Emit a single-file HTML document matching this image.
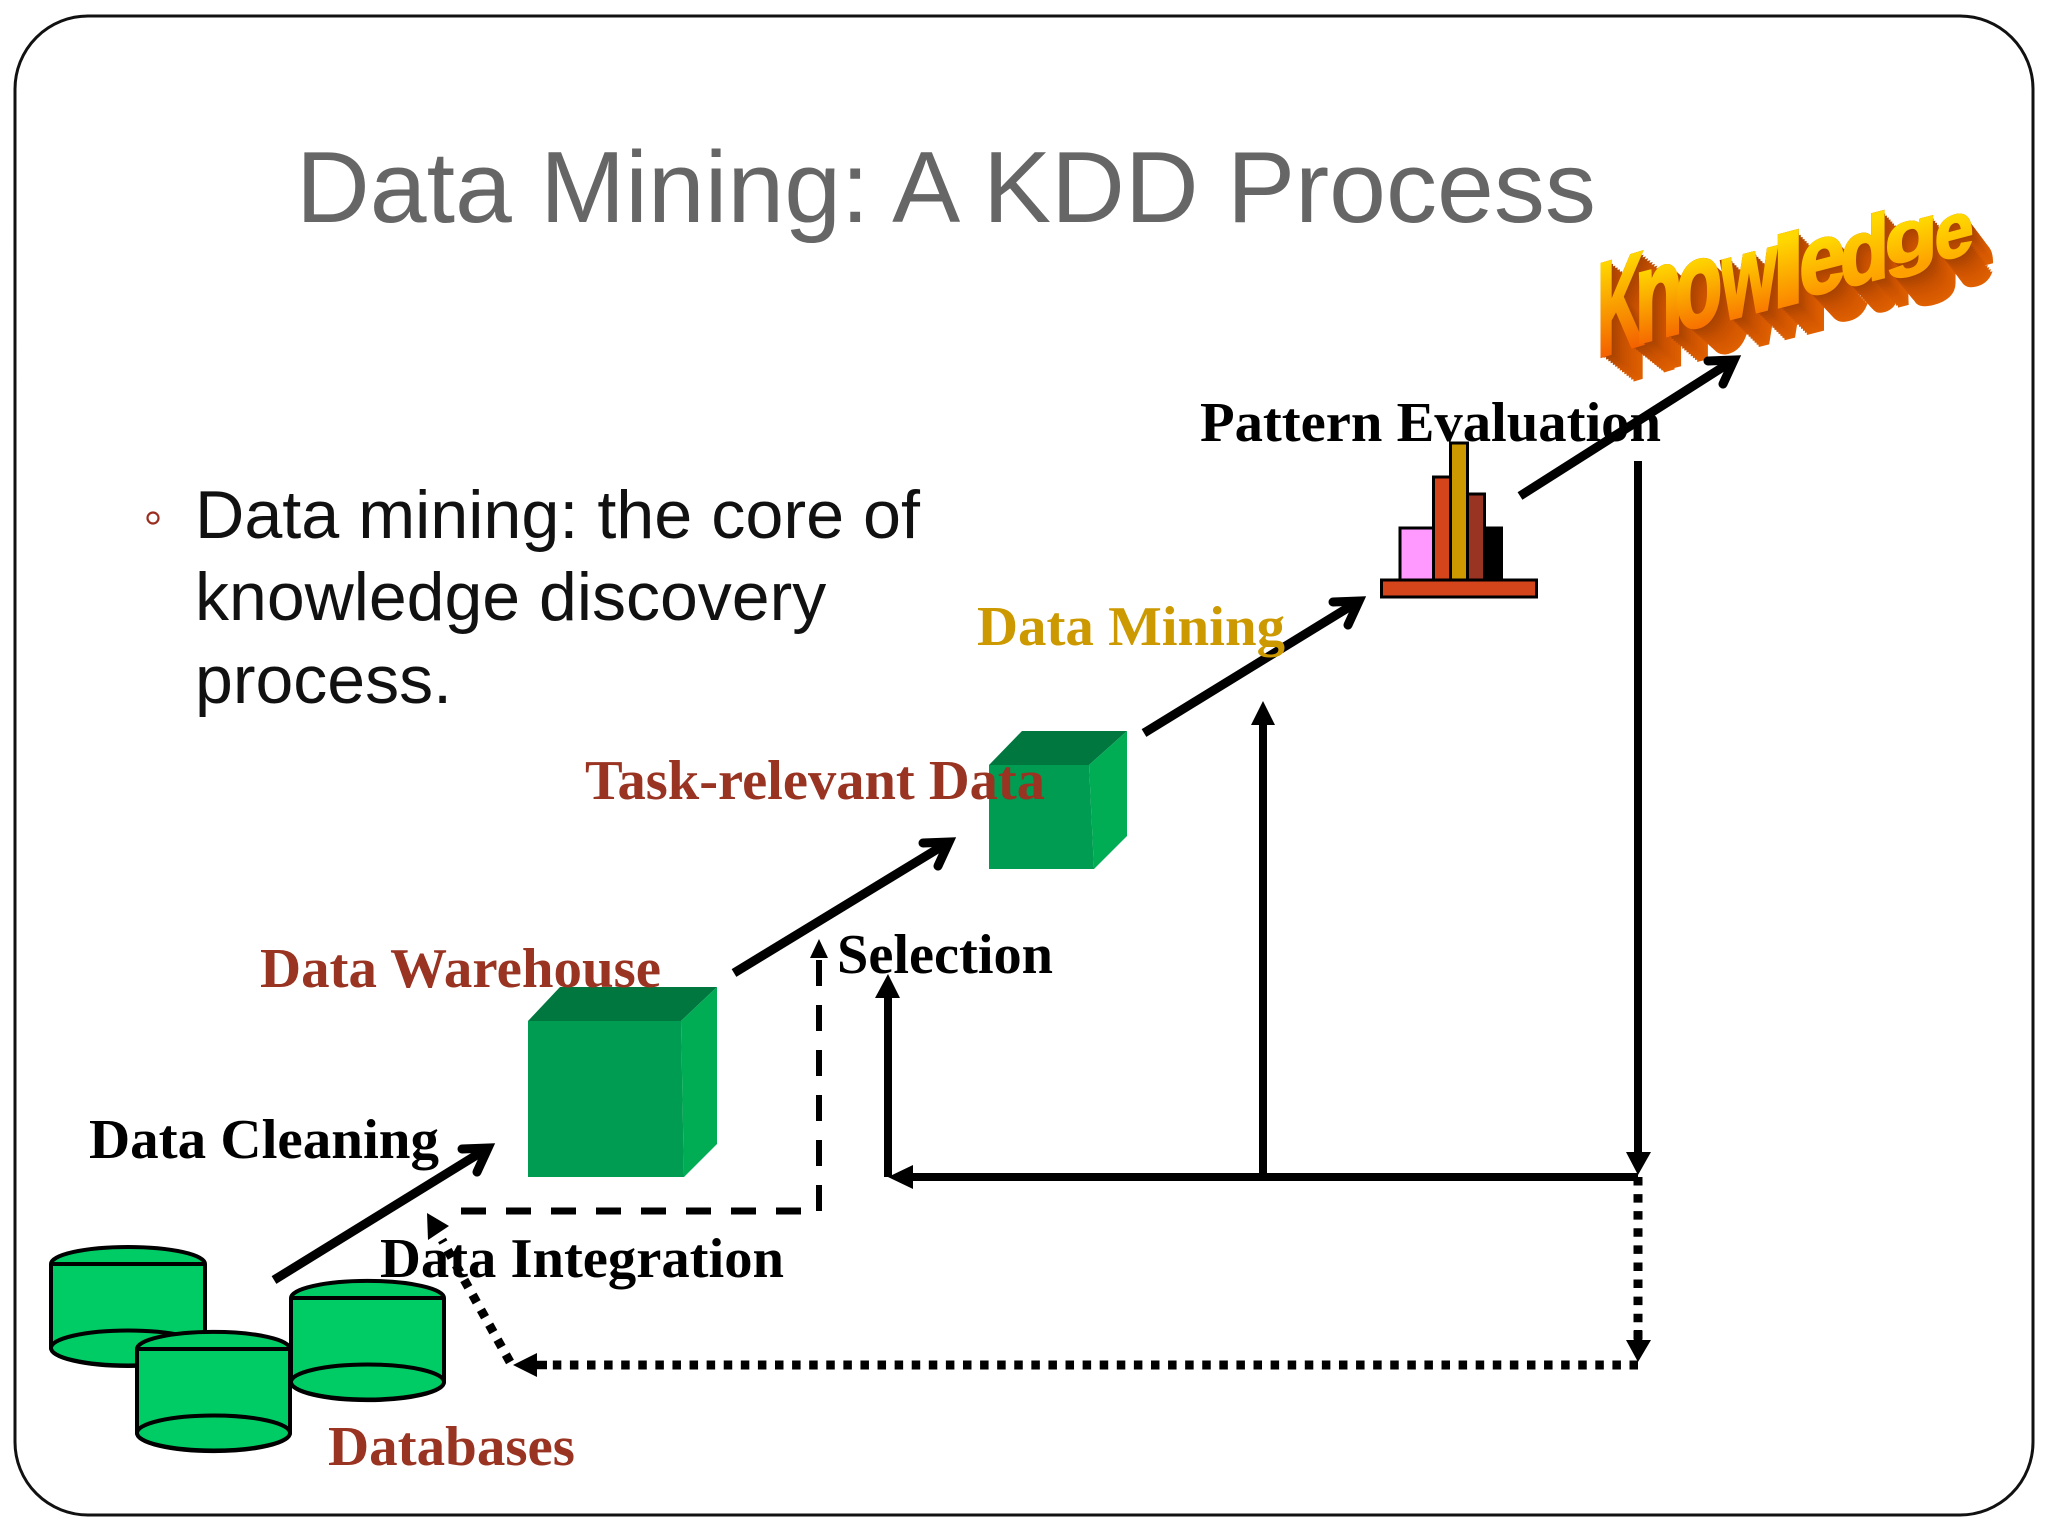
<!DOCTYPE html>
<html><head><meta charset="utf-8"><style>
html,body{margin:0;padding:0;background:#fff;width:2048px;height:1536px;overflow:hidden}
.ka{position:absolute;left:0;top:0;width:2048px;height:1536px;font:bold 100px/100px "Liberation Sans",sans-serif}
.ka span{position:absolute;left:0;top:0;display:block;width:110px;height:112px;transform-origin:0 0;white-space:nowrap}
.sh span{color:#a84200;-webkit-text-stroke:3px #a84200;text-shadow:calc(var(--x)*1) calc(var(--y)*1) #a84200,calc(var(--x)*2) calc(var(--y)*2) #ae4500,calc(var(--x)*3) calc(var(--y)*3) #b44800,calc(var(--x)*4) calc(var(--y)*4) #ba4a00,calc(var(--x)*5) calc(var(--y)*5) #c04d00,calc(var(--x)*6) calc(var(--y)*6) #c65000,calc(var(--x)*7) calc(var(--y)*7) #ca5200,calc(var(--x)*8) calc(var(--y)*8) #ce5400,calc(var(--x)*9) calc(var(--y)*9) #d25600,calc(var(--x)*10) calc(var(--y)*10) #d65800,calc(var(--x)*11) calc(var(--y)*11) #d85a00,calc(var(--x)*12) calc(var(--y)*12) #da5c00,calc(var(--x)*13) calc(var(--y)*13) #dc5e00,calc(var(--x)*14) calc(var(--y)*14) #e06000}
.fr span{color:transparent;-webkit-text-stroke:3px transparent;background:linear-gradient(#ffd800 var(--t),var(--c) 85%);-webkit-background-clip:text;background-clip:text}
.k1{--x:3.56px;--y:1.9px;--t:12%;--c:#f25000;transform:matrix(.641,-.192,0,1.326,1597.2,245.8)}
.k2{--x:2.73px;--y:1.9px;--t:25%;--c:#f45800;transform:matrix(.784,-.204,0,1.296,1634.9,234.9)}
.k3{--x:2.79px;--y:2.05px;--t:25%;--c:#f66000;transform:matrix(.769,-.2,0,1.213,1675.2,229.8)}
.k4{--x:2.8px;--y:2.25px;--t:25%;--c:#f86800;transform:matrix(.714,-.186,0,1.131,1721.3,226.1)}
.k5{--x:1.55px;--y:2.55px;--t:15%;--c:#fa7800;transform:matrix(1.25,-.325,0,.988,1771,226.1)}
.k6{--x:2.23px;--y:2.5px;--t:28%;--c:#fc8800;transform:matrix(.833,-.217,0,.993,1799.2,214.9)}
.k7{--x:2.23px;--y:2.7px;--t:15%;--c:#fd9800;transform:matrix(.8,-.208,0,.908,1840.1,212.2)}
.k8{--x:1.98px;--y:3.5px;--t:28%;--c:#fea000;transform:matrix(.865,-.225,0,.723,1884.8,206.2)}
.k9{--x:2.24px;--y:3.25px;--t:28%;--c:#ffa800;transform:matrix(.7,-.182,0,.767,1934.6,197.4)}
svg{position:absolute;left:0;top:0}
text.l{font-family:"Liberation Serif",serif;font-weight:bold;font-size:56px}
text.b{font-family:"Liberation Sans",sans-serif;font-size:68px;fill:#111}
</style></head><body>
<div class="ka sh"><span class="k1">K</span><span class="k2">n</span><span class="k3">o</span><span class="k4">w</span><span class="k5">l</span><span class="k6">e</span><span class="k7">d</span><span class="k8">g</span><span class="k9">e</span></div>
<div class="ka fr"><span class="k1">K</span><span class="k2">n</span><span class="k3">o</span><span class="k4">w</span><span class="k5">l</span><span class="k6">e</span><span class="k7">d</span><span class="k8">g</span><span class="k9">e</span></div>
<svg width="2048" height="1536" viewBox="0 0 2048 1536" xmlns="http://www.w3.org/2000/svg">
<rect x="15" y="16" width="2018" height="1499" rx="73" ry="73" fill="none" stroke="#111" stroke-width="3"/>
<text x="296" y="222" font-family="Liberation Sans" font-size="101" fill="#666" textLength="1300" lengthAdjust="spacingAndGlyphs">Data Mining: A KDD Process</text>
<circle cx="153" cy="518" r="5.500" fill="none" stroke="#9b2d1f" stroke-width="2.200"/>
<text class="b" x="195" y="538" textLength="725" lengthAdjust="spacingAndGlyphs">Data mining: the core of</text>
<text class="b" x="195" y="620">knowledge discovery</text>
<text class="b" x="195" y="703">process.</text>

<!-- cylinders -->
<g stroke="#000" stroke-width="4" fill="#00cc66">
<path d="M51 1264A77 17 0 0 1 205 1264V1348A77 18 0 0 1 51 1348Z"/><ellipse cx="128" cy="1348" rx="77" ry="17.500"/><path d="M51 1264H205" fill="none"/>
<path d="M291 1298A76 17 0 0 1 444 1298V1382A76 18 0 0 1 291 1382Z"/><ellipse cx="367.500" cy="1382" rx="76.500" ry="17.500"/><path d="M291 1298H444" fill="none"/>
<path d="M137 1349A76 17 0 0 1 290 1349V1433A76 18 0 0 1 137 1433Z"/><ellipse cx="213.500" cy="1433" rx="76.500" ry="17.500"/><path d="M137 1349H290" fill="none"/>
</g>
<!-- cubes -->
<path d="M528 1021H681L684 1177H528Z" fill="#009c52"/><path d="M528 1021L560 987H717L681 1021Z" fill="#00773f"/><path d="M681 1021L717 987V1144L684 1177Z" fill="#00ad55"/>
<path d="M989 765H1089L1094 869H989Z" fill="#009c52"/><path d="M989 765L1022 731H1127L1089 765Z" fill="#00773f"/><path d="M1089 765L1127 731V836L1094 869Z" fill="#00ad55"/>
<!-- bar chart -->
<g stroke="#000" stroke-width="3" transform="translate(-2.500 0)">
<rect x="1402.500" y="528" width="33.500" height="52" fill="#ff99ff"/>
<rect x="1487" y="528" width="17" height="52" fill="#000"/>
<rect x="1470" y="494" width="17" height="86" fill="#993322"/>
<rect x="1436" y="477" width="17" height="103" fill="#d4451b"/>
<rect x="1453" y="443" width="17" height="137" fill="#cc9900"/>
<rect x="1384" y="580" width="155" height="17" fill="#d4451b"/>
</g>
<!-- open arrows -->
<g fill="none" stroke="#000" stroke-width="9">
<path d="M274 1280L488 1148"/><path d="M734 973L949 842"/><path d="M1144 733L1359 601"/><path d="M1520 496L1734 360"/>
</g>
<g fill="none" stroke="#000" stroke-width="9" stroke-linecap="round" stroke-linejoin="miter" stroke-miterlimit="6">
<path d="M462 1149L488 1148L477 1172"/><path d="M923 843L949 842L938 866"/><path d="M1333 602L1359 601L1348 625"/><path d="M1708 361L1734 360L1723 384"/>
</g>
<!-- dashed -->
<path d="M461 1211H801" stroke="#000" stroke-width="7" stroke-dasharray="25 20" fill="none"/>
<path d="M819 1211V958" stroke="#000" stroke-width="6" stroke-dasharray="26 19" fill="none"/>
<path d="M819 939L828 958H810Z" fill="#000"/>
<!-- solid -->
<g stroke="#000" stroke-width="8" fill="none">
<path d="M888 1177V995"/><path d="M900 1177H1638"/><path d="M1263 1177V722"/><path d="M1638 461V1155"/>
</g>
<path d="M888 974L900 998H875Z"/><path d="M888 1177L913 1165V1189Z"/><path d="M1263 701L1275 725H1251Z"/><path d="M1638 1175L1626 1152H1651Z"/>
<!-- dotted -->
<g stroke="#000" stroke-width="9" fill="none" stroke-dasharray="8.500 8.590">
<path d="M1638 1177V1340"/>
<path d="M1638 1365H550"/>
<path d="M510 1362L442 1240"/>
</g>
<path d="M1638 1330V1342M537 1365H547" stroke="#000" stroke-width="8.500"/>
<path d="M1638 1362L1626 1340H1651Z"/><path d="M513 1365L537 1353V1377Z"/><path d="M427 1213L449 1226L428 1240Z"/>
<!-- labels -->
<text class="l" x="89" y="1158" fill="#000" textLength="350" lengthAdjust="spacingAndGlyphs">Data Cleaning</text>
<text class="l" x="380" y="1277" fill="#000" textLength="404" lengthAdjust="spacingAndGlyphs">Data Integration</text>
<text class="l" x="328" y="1465" fill="#993322" textLength="247" lengthAdjust="spacingAndGlyphs">Databases</text>
<text class="l" x="260" y="987" fill="#993322" textLength="401" lengthAdjust="spacingAndGlyphs">Data Warehouse</text>
<text class="l" x="585" y="799" fill="#993322" textLength="460" lengthAdjust="spacingAndGlyphs">Task-relevant Data</text>
<text class="l" x="837" y="973" fill="#000" textLength="216" lengthAdjust="spacingAndGlyphs">Selection</text>
<text class="l" x="977" y="645" fill="#cc9900" textLength="308" lengthAdjust="spacingAndGlyphs">Data Mining</text>
<text class="l" x="1200" y="441" fill="#000" textLength="461" lengthAdjust="spacingAndGlyphs">Pattern Evaluation</text>
</svg>
</body></html>
